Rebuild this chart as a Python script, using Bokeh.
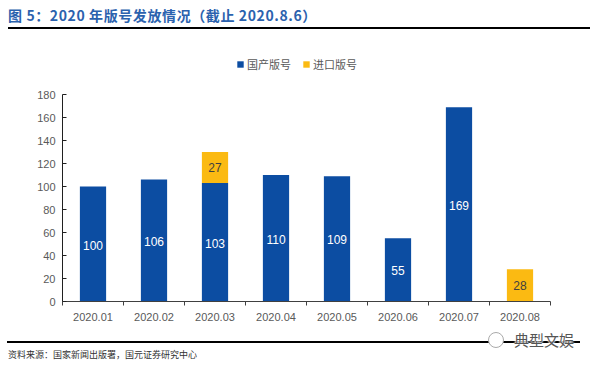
from bokeh.plotting import figure
from bokeh.models import (ColumnDataSource, Range1d, FixedTicker, LabelSet,
                          Legend, LegendItem, Div)
from bokeh.layouts import column
from bokeh.core.properties import value
from bokeh.embed import file_html
from bokeh.resources import INLINE

months = ["2020.01", "2020.02", "2020.03", "2020.04", "2020.05", "2020.06", "2020.07", "2020.08"]
domestic = [100, 106, 103, 110, 109, 55, 169, 0]
imported = [0, 0, 27, 0, 0, 0, 0, 28]
series_names = ["国产版号", "进口版号"]
y_ticks = [0, 20, 40, 60, 80, 100, 120, 140, 160, 180]
title_text = "图 5：2020 年版号发放情况（截止 2020.8.6）"
source_text = "资料来源：国家新闻出版署，国元证券研究中心"
watermark = "典型文娱"

BLUE = "#0C4DA2"
YELLOW = "#FBBA12"
AXIS_TXT = "#595959"
CJK = "Noto Sans CJK SC"
LAT = "Liberation Sans"

xs = list(range(1, len(months) + 1))
src = ColumnDataSource(dict(x=xs, domestic=domestic, imported=imported))

# frame: 246 px tall, of which the lower 207 px hold 0..180
y_top = 180 * 246 / 207
p = figure(width=593, height=309, output_backend="svg", toolbar_location=None,
           x_range=Range1d(0.5, len(months) + 0.5), y_range=Range1d(0, y_top),
           min_border_left=62, min_border_right=43, min_border_top=26, min_border_bottom=37,
           margin=0)
p.outline_line_color = None
p.grid.visible = False

rs = p.vbar_stack(["domestic", "imported"], x="x", width=0.43, source=src,
                  color=[BLUE, YELLOW], line_color=None)

# value labels
dx = [x for x, v in zip(xs, domestic) if v > 0]
dv = [v for v in domestic if v > 0]
dsrc = ColumnDataSource(dict(x=dx, y=[v / 2 for v in dv], t=[str(v) for v in dv]))
p.add_layout(LabelSet(x="x", y="y", text="t", source=dsrc, text_align="center",
                      text_baseline="middle", text_color="white", text_font=value(LAT),
                      text_font_size="12px", y_offset=-1))
ix = [x for x, v in zip(xs, imported) if v > 0]
iy = [d + v / 2 for d, v in zip(domestic, imported) if v > 0]
iv = [v for v in imported if v > 0]
isrc = ColumnDataSource(dict(x=ix, y=iy, t=[str(v) for v in iv]))
p.add_layout(LabelSet(x="x", y="y", text="t", source=isrc, text_align="center",
                      text_baseline="middle", text_color="#404040", text_font=value(LAT),
                      text_font_size="12px"))

# axes
xa = p.xaxis[0]
xa.ticker = FixedTicker(ticks=xs, minor_ticks=[x + 0.5 for x in range(0, len(months) + 1)])
xa.major_label_overrides = {x: m for x, m in zip(xs, months)}
xa.major_tick_in = 0
xa.major_tick_out = 0
xa.minor_tick_in = 0
xa.minor_tick_out = 4
xa.minor_tick_line_color = "#404040"
xa.axis_line_color = "#404040"
xa.major_label_standoff = 7
xa.major_label_text_font = LAT
xa.major_label_text_font_size = "11px"
xa.major_label_text_color = AXIS_TXT

ya = p.yaxis[0]
ya.ticker = FixedTicker(ticks=y_ticks, minor_ticks=[])
ya.bounds = (0, 180)
ya.major_tick_in = 4
ya.major_tick_out = 0
ya.major_tick_line_color = "#202020"
ya.axis_line_color = "#202020"
ya.major_label_standoff = 7
ya.major_label_text_font = LAT
ya.major_label_text_font_size = "11px"
ya.major_label_text_color = AXIS_TXT

legend = Legend(items=[LegendItem(label=series_names[0], renderers=[rs[0]]),
                       LegendItem(label=series_names[1], renderers=[rs[1]])],
                location=(174, 229), orientation="horizontal", glyph_width=8, glyph_height=8,
                label_height=12, label_standoff=3, spacing=11, padding=0, margin=0,
                border_line_alpha=0, background_fill_alpha=0,
                label_text_font=CJK, label_text_font_size="11px", label_text_color=AXIS_TXT)
p.add_layout(legend, "center")

title_div = Div(width=593, height=29, margin=0, text=(
    '<div style="position:relative;width:593px;height:29px;">'
    '<div style="position:absolute;left:8px;top:6px;height:18px;line-height:18px;'
    'font-family:\'Noto Sans CJK SC\';font-weight:bold;font-size:14px;letter-spacing:0.6px;'
    'color:#2B62AE;white-space:nowrap;">' + title_text + '</div>'
    '<div style="position:absolute;left:8px;top:27px;width:582px;height:2px;background:#000;"></div>'
    '</div>'))

bottom_div = Div(width=593, height=26, margin=0, text=(
    '<div style="position:relative;width:593px;height:26px;">'
    '<div style="position:absolute;left:7px;top:3px;width:573px;height:2px;background:#000;"></div>'
    '<div style="position:absolute;left:8px;top:12px;font-family:\'Noto Sans CJK SC\';'
    'font-size:9px;line-height:10px;color:#333;white-space:nowrap;">' + source_text + '</div>'
    '<div style="position:absolute;left:488px;top:-6px;width:14px;height:14px;border:1.5px solid #aaa;'
    'border-radius:50%;background:#fff;box-sizing:content-box;"></div>'
    '<div style="position:absolute;left:514px;top:-7px;font-family:\'Noto Sans CJK SC\';'
    'font-size:15px;line-height:18px;color:#555;white-space:nowrap;'
    'text-shadow:0 0 2px #fff,0 0 2px #fff,0 0 2px #fff;">' + watermark + '</div>'
    '</div>'))

layout = column(title_div, p, bottom_div, spacing=0, margin=0)
open("out.html", "w").write(file_html(layout, INLINE))
